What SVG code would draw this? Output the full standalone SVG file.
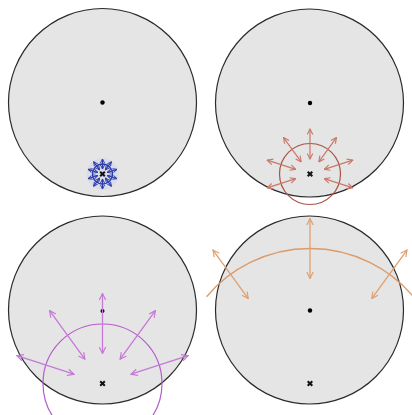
<svg xmlns="http://www.w3.org/2000/svg" width="412" height="415" viewBox="0 0 412 415">
<style>
.disk{fill:#e5e5e5;stroke:#2a2a2a;stroke-width:1.2}
.dot{fill:#000}
.src{stroke:#111;stroke-width:2}
.wb{fill:none;stroke:#2c3ca8;stroke-width:1.3}
.ab{stroke:#2c3ca8;stroke-width:1.2;marker-start:url(#hb);marker-end:url(#hb)}
.wr{fill:none;stroke:#a85444;stroke-width:1.2}
.ar{stroke:#c97868;stroke-width:1.2;marker-start:url(#hr);marker-end:url(#hr)}
.wp{fill:none;stroke:#b45ccc;stroke-width:1.2}
.ap{stroke:#c678d6;stroke-width:1.3;marker-start:url(#hp);marker-end:url(#hp)}
.wo{fill:none;stroke:#dc9a66;stroke-width:1.3}
.ao{stroke:#e0a070;stroke-width:1.3;marker-start:url(#ho);marker-end:url(#ho)}
</style>
<defs>
<marker id="hb" viewBox="0 0 10 10" refX="9" refY="5" markerUnits="userSpaceOnUse" markerWidth="5" markerHeight="5" orient="auto-start-reverse"><path d="M1,1 L9,5 L1,9" fill="none" stroke="#2c3ca8" stroke-width="2"/></marker>
<marker id="hr" viewBox="0 0 10 10" refX="9" refY="5" markerUnits="userSpaceOnUse" markerWidth="7" markerHeight="7" orient="auto-start-reverse"><path d="M1,1 L9,5 L1,9" fill="none" stroke="#c97868" stroke-width="1.6"/></marker>
<marker id="hp" viewBox="0 0 10 10" refX="9" refY="5" markerUnits="userSpaceOnUse" markerWidth="8" markerHeight="8" orient="auto-start-reverse"><path d="M1,1 L9,5 L1,9" fill="none" stroke="#c678d6" stroke-width="1.5"/></marker>
<marker id="ho" viewBox="0 0 10 10" refX="9" refY="5" markerUnits="userSpaceOnUse" markerWidth="8" markerHeight="8" orient="auto-start-reverse"><path d="M1,1 L9,5 L1,9" fill="none" stroke="#e0a070" stroke-width="1.5"/></marker>
</defs>
<rect width="412" height="415" fill="#fff"/>

<g id="panel1">
<circle class="disk" cx="102.5" cy="102.5" r="94"/>
<circle class="dot" cx="102.5" cy="102.5" r="2.2"/>
<g transform="translate(102.5,174)">
<circle cx="0" cy="0" r="16" fill="#c8ccf4" opacity="0.35"/>
<circle class="wb" cx="0" cy="0" r="10"/>
<g class="ab">
<line x1="0" y1="-5" x2="0" y2="-15"/>
<line x1="0" y1="-5" x2="0" y2="-15" transform="rotate(36)"/>
<line x1="0" y1="-5" x2="0" y2="-15" transform="rotate(-36)"/>
<line x1="0" y1="-5" x2="0" y2="-15" transform="rotate(72)"/>
<line x1="0" y1="-5" x2="0" y2="-15" transform="rotate(-72)"/>
<line x1="0" y1="-5" x2="0" y2="-15" transform="rotate(108)"/>
<line x1="0" y1="-5" x2="0" y2="-15" transform="rotate(-108)"/>
<line x1="0" y1="-5" x2="0" y2="-15" transform="rotate(144)"/>
<line x1="0" y1="-5" x2="0" y2="-15" transform="rotate(-144)"/>
<line x1="0" y1="-5" x2="0" y2="-15" transform="rotate(180)"/>
</g>
<path class="src" d="M-2.3,-2.3 L2.3,2.3 M2.3,-2.3 L-2.3,2.3"/>
</g>
</g>

<g id="panel2">
<circle class="disk" cx="309.5" cy="103" r="94"/>
<circle class="dot" cx="310" cy="103" r="2.2"/>
<g transform="translate(310,174)">
<circle class="wr" cx="0" cy="0" r="30.5"/>
<g class="ar">
<line x1="0" y1="-15" x2="0" y2="-45"/>
<line x1="0" y1="-15" x2="0" y2="-45" transform="rotate(36)"/>
<line x1="0" y1="-15" x2="0" y2="-45" transform="rotate(-36)"/>
<line x1="0" y1="-15" x2="0" y2="-45" transform="rotate(72)"/>
<line x1="0" y1="-15" x2="0" y2="-45" transform="rotate(-72)"/>
<line x1="0" y1="-15" x2="0" y2="-45" transform="rotate(108)"/>
<line x1="0" y1="-15" x2="0" y2="-45" transform="rotate(-108)"/>
</g>
<path class="src" d="M-2.3,-2.3 L2.3,2.3 M2.3,-2.3 L-2.3,2.3"/>
</g>
</g>

<g id="panel3">
<circle class="disk" cx="102.5" cy="310" r="94"/>
<circle class="dot" cx="102.5" cy="311" r="2"/>
<g transform="translate(102.5,383.5)">
<circle class="wp" cx="0" cy="0" r="59.5"/>
<g class="ap">
<line x1="0" y1="-30" x2="0" y2="-90"/>
<line x1="0" y1="-30" x2="0" y2="-90" transform="rotate(36)"/>
<line x1="0" y1="-30" x2="0" y2="-90" transform="rotate(-36)"/>
<line x1="0" y1="-30" x2="0" y2="-90" transform="rotate(72)"/>
<line x1="0" y1="-30" x2="0" y2="-90" transform="rotate(-72)"/>
</g>
<path class="src" d="M-2.3,-2.3 L2.3,2.3 M2.3,-2.3 L-2.3,2.3"/>
</g>
</g>

<g id="panel4">
<circle class="disk" cx="309.5" cy="310" r="94"/>
<circle class="dot" cx="310" cy="310.5" r="2.2"/>
<g transform="translate(310,383.5)">
<path class="wo" d="M-103.42,-86.78 A135,135 0 0 1 103.42,-86.78"/>
<g class="ao">
<line x1="0" y1="-105" x2="0" y2="-165"/>
<line x1="0" y1="-105" x2="0" y2="-165" transform="rotate(36)"/>
<line x1="0" y1="-105" x2="0" y2="-165" transform="rotate(-36)"/>
</g>
<path class="src" d="M-2.3,-2.3 L2.3,2.3 M2.3,-2.3 L-2.3,2.3"/>
</g>
</g>
</svg>
